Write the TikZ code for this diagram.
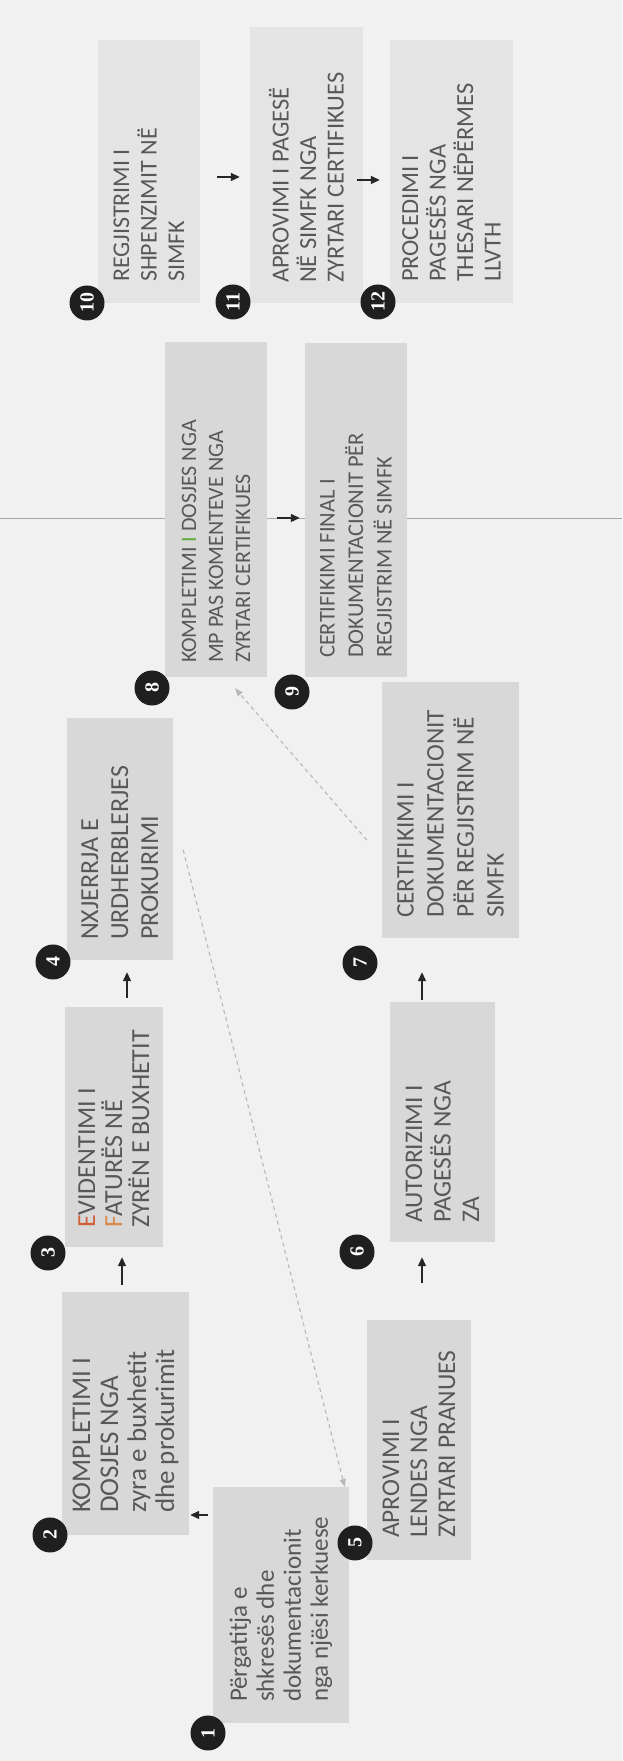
\documentclass[tikz,border=0pt]{standalone}
\usepackage{fontspec}
\setmainfont{Carlito}
\newfontfamily\numfont{Liberation Serif}
\usetikzlibrary{arrows.meta,calc}
\definecolor{bgc}{HTML}{F1F1F1}
\definecolor{boxc}{HTML}{D8D8D8}
\definecolor{boxl}{HTML}{E4E4E4}
\definecolor{txtc}{HTML}{585858}
\definecolor{dashc}{HTML}{B8B8B8}
\definecolor{foldc}{HTML}{A8A8A8}
\definecolor{redc}{HTML}{D0603A}
\definecolor{orc}{HTML}{D98A4A}
\definecolor{grc}{HTML}{5DAA3A}
\begin{document}
\begin{tikzpicture}[x=1pt,y=1pt,
  box/.style={fill=boxc, draw=none, inner sep=0pt},
  lbox/.style={fill=boxl, draw=none, inner sep=0pt},
  lbl/.style 2 args={rotate=90, anchor=west, align=left, text=txtc, inner sep=0pt,
    font=\fontsize{#1}{#2}\selectfont},
  num/.style={circle, fill=black!88, minimum size=35, inner sep=0pt, text=white,
    font=\numfont\bfseries\fontsize{20}{20}\selectfont},
  arr/.style={-{Triangle[length=9pt,width=8pt]}, line width=1.3pt, black!85},
  dsh/.style={dashed, dash pattern=on 4pt off 3.5pt, line width=1.1pt, dashc,
    -{Triangle[length=8pt,width=6pt]}}
]
\useasboundingbox (0,0) rectangle (622,1761);
\fill[bgc] (0,0) rectangle (622,1761);
% fold line
\coordinate (fl) at (0,1243);
\coordinate (fr) at (622,1243);
\draw[foldc, line width=0.8pt] (fl) -- (fr);

% boxes
\node[box, minimum width=136, minimum height=236] (b1) at (281,156) {};
\node[box, minimum width=127, minimum height=243] (b2) at (125.5,347.5) {};
\node[box, minimum width=98,  minimum height=240] (b3) at (114,634) {};
\node[box, minimum width=106, minimum height=242] (b4) at (120,922) {};
\node[box, minimum width=104, minimum height=240] (b5) at (419,321) {};
\node[box, minimum width=105, minimum height=240] (b6) at (442.5,639) {};
\node[box, minimum width=137, minimum height=256] (b7) at (450.5,951) {};
\node[box, minimum width=102, minimum height=335] (b8) at (216,1251.5) {};
\node[box, minimum width=102, minimum height=334] (b9) at (356,1251) {};
\node[lbox, minimum width=102, minimum height=263] (b10) at (149,1589.5) {};
\node[lbox, minimum width=113, minimum height=276] (b11) at (306.5,1596) {};
\node[lbox, minimum width=123, minimum height=263] (b12) at (451.5,1589.5) {};

% texts
\node[lbl={25}{27}] (t1) at ([yshift=21]b1.south) {Përgatitja e\\shkresës dhe\\dokumentacionit\\nga njësi kerkuese};
\node[lbl={27}{28}] (t2) at ([yshift=22]b2.south) {KOMPLETIMI I\\DOSJES NGA\\zyra e buxhetit\\dhe prokurimit};
\node[lbl={26}{27}] (t3) at ([yshift=19]b3.south) {\textcolor{redc}{E}VIDENTIMI I\\\textcolor{orc}{F}ATURËS NË\\ZYRËN E BUXHETIT};
\node[lbl={26}{30}] (t4) at ([yshift=20]b4.south) {NXJERRJA E\\URDHERBLERJES\\PROKURIMI};
\node[lbl={25.5}{28}] (t5) at ([yshift=22]b5.south) {APROVIMI I\\LENDES NGA\\ZYRTARI PRANUES};
\node[lbl={25.4}{28.5}] (t6) at ([yshift=19]b6.south) {AUTORIZIMI I\\PAGESËS NGA\\ZA};
\node[lbl={25.3}{30}] (t7) at ([yshift=20]b7.south) {CERTIFIKIMI I\\DOKUMENTACIONIT\\PËR REGJISTRIM NË\\SIMFK};
\node[lbl={22}{27}] (t8) at ([yshift=14]b8.south) {KOMPLETIMI \textcolor{grc}{I} DOSJES NGA\\MP PAS KOMENTEVE NGA\\ZYRTARI CERTIFIKUES};
\node[lbl={22.5}{28.5}] (t9) at ([yshift=19]b9.south) {CERTIFIKIMI FINAL I\\DOKUMENTACIONIT PËR\\REGJISTRIM NË SIMFK};
\node[lbl={24}{27.5}] (t10) at ([yshift=21]b10.south) {REGJISTRIMI I\\SHPENZIMIT NË\\SIMFK};
\node[lbl={24.5}{27.5}] (t11) at ([yshift=20]b11.south) {APROVIMI I PAGESË\\NË SIMFK NGA\\ZYRTARI CERTIFIKUES};
\node[lbl={24.5}{27.5}] (t12) at ([yshift=21]b12.south) {PROCEDIMI I\\PAGESËS NGA\\THESARI NËPËRMES\\LLVTH};

% number circles
\node[num] (c1) at (208,28) {\rotatebox{90}{1}};
\node[num] (c2) at (50,226) {\rotatebox{90}{2}};
\node[num] (c3) at (48,508) {\rotatebox{90}{3}};
\node[num] (c4) at (53,799) {\rotatebox{90}{4}};
\node[num] (c5) at (355,218) {\rotatebox{90}{5}};
\node[num] (c6) at (357,509) {\rotatebox{90}{6}};
\node[num] (c7) at (360,798) {\rotatebox{90}{7}};
\node[num] (c8) at (152,1073) {\rotatebox{90}{8}};
\node[num] (c9) at (292,1069) {\rotatebox{90}{9}};
\node[num] (c10) at (87,1458) {\rotatebox{90}{10}};
\node[num] (c11) at (233,1459) {\rotatebox{90}{11}};
\node[num] (c12) at (378,1459) {\rotatebox{90}{12}};

% solid arrows
\draw[arr, shorten <=5pt, shorten >=1pt] (b1.west |- 0,246) -- (b2.east |- 0,246);
\draw[arr, shorten <=7pt, shorten >=10pt] (b2.north -| 122,0) -- (b3.south -| 122,0);
\draw[arr, shorten <=9pt, shorten >=12pt] (b3.north -| 127,0) -- (b4.south -| 127,0);
\draw[arr, shorten <=37pt, shorten >=15pt] (b5.north -| 422,0) -- (b6.south -| 422,0);
\draw[arr, shorten <=2pt, shorten >=34pt] (b6.north -| 422,0) -- (b7.south -| 422,0);
\draw[arr, shorten <=10pt, shorten >=5pt] (b8.east |- 0,1243) -- (b9.west |- 0,1243);
\draw[arr, shorten <=17pt, shorten >=10pt] (b10.east |- 0,1584) -- (b11.west |- 0,1584);
\draw[arr, shorten <=-6pt, shorten >=10pt] (b11.east |- 0,1581) -- (b12.west |- 0,1581);

% dashed connectors
\draw[dsh] ([xshift=10,yshift=-11]b4.east) -- ([xshift=-22,yshift=-47]b5.west);
\draw[dsh] ([xshift=-15,yshift=-30]b7.west) -- ([xshift=19,yshift=-11]b8.south);
\end{tikzpicture}
\end{document}
